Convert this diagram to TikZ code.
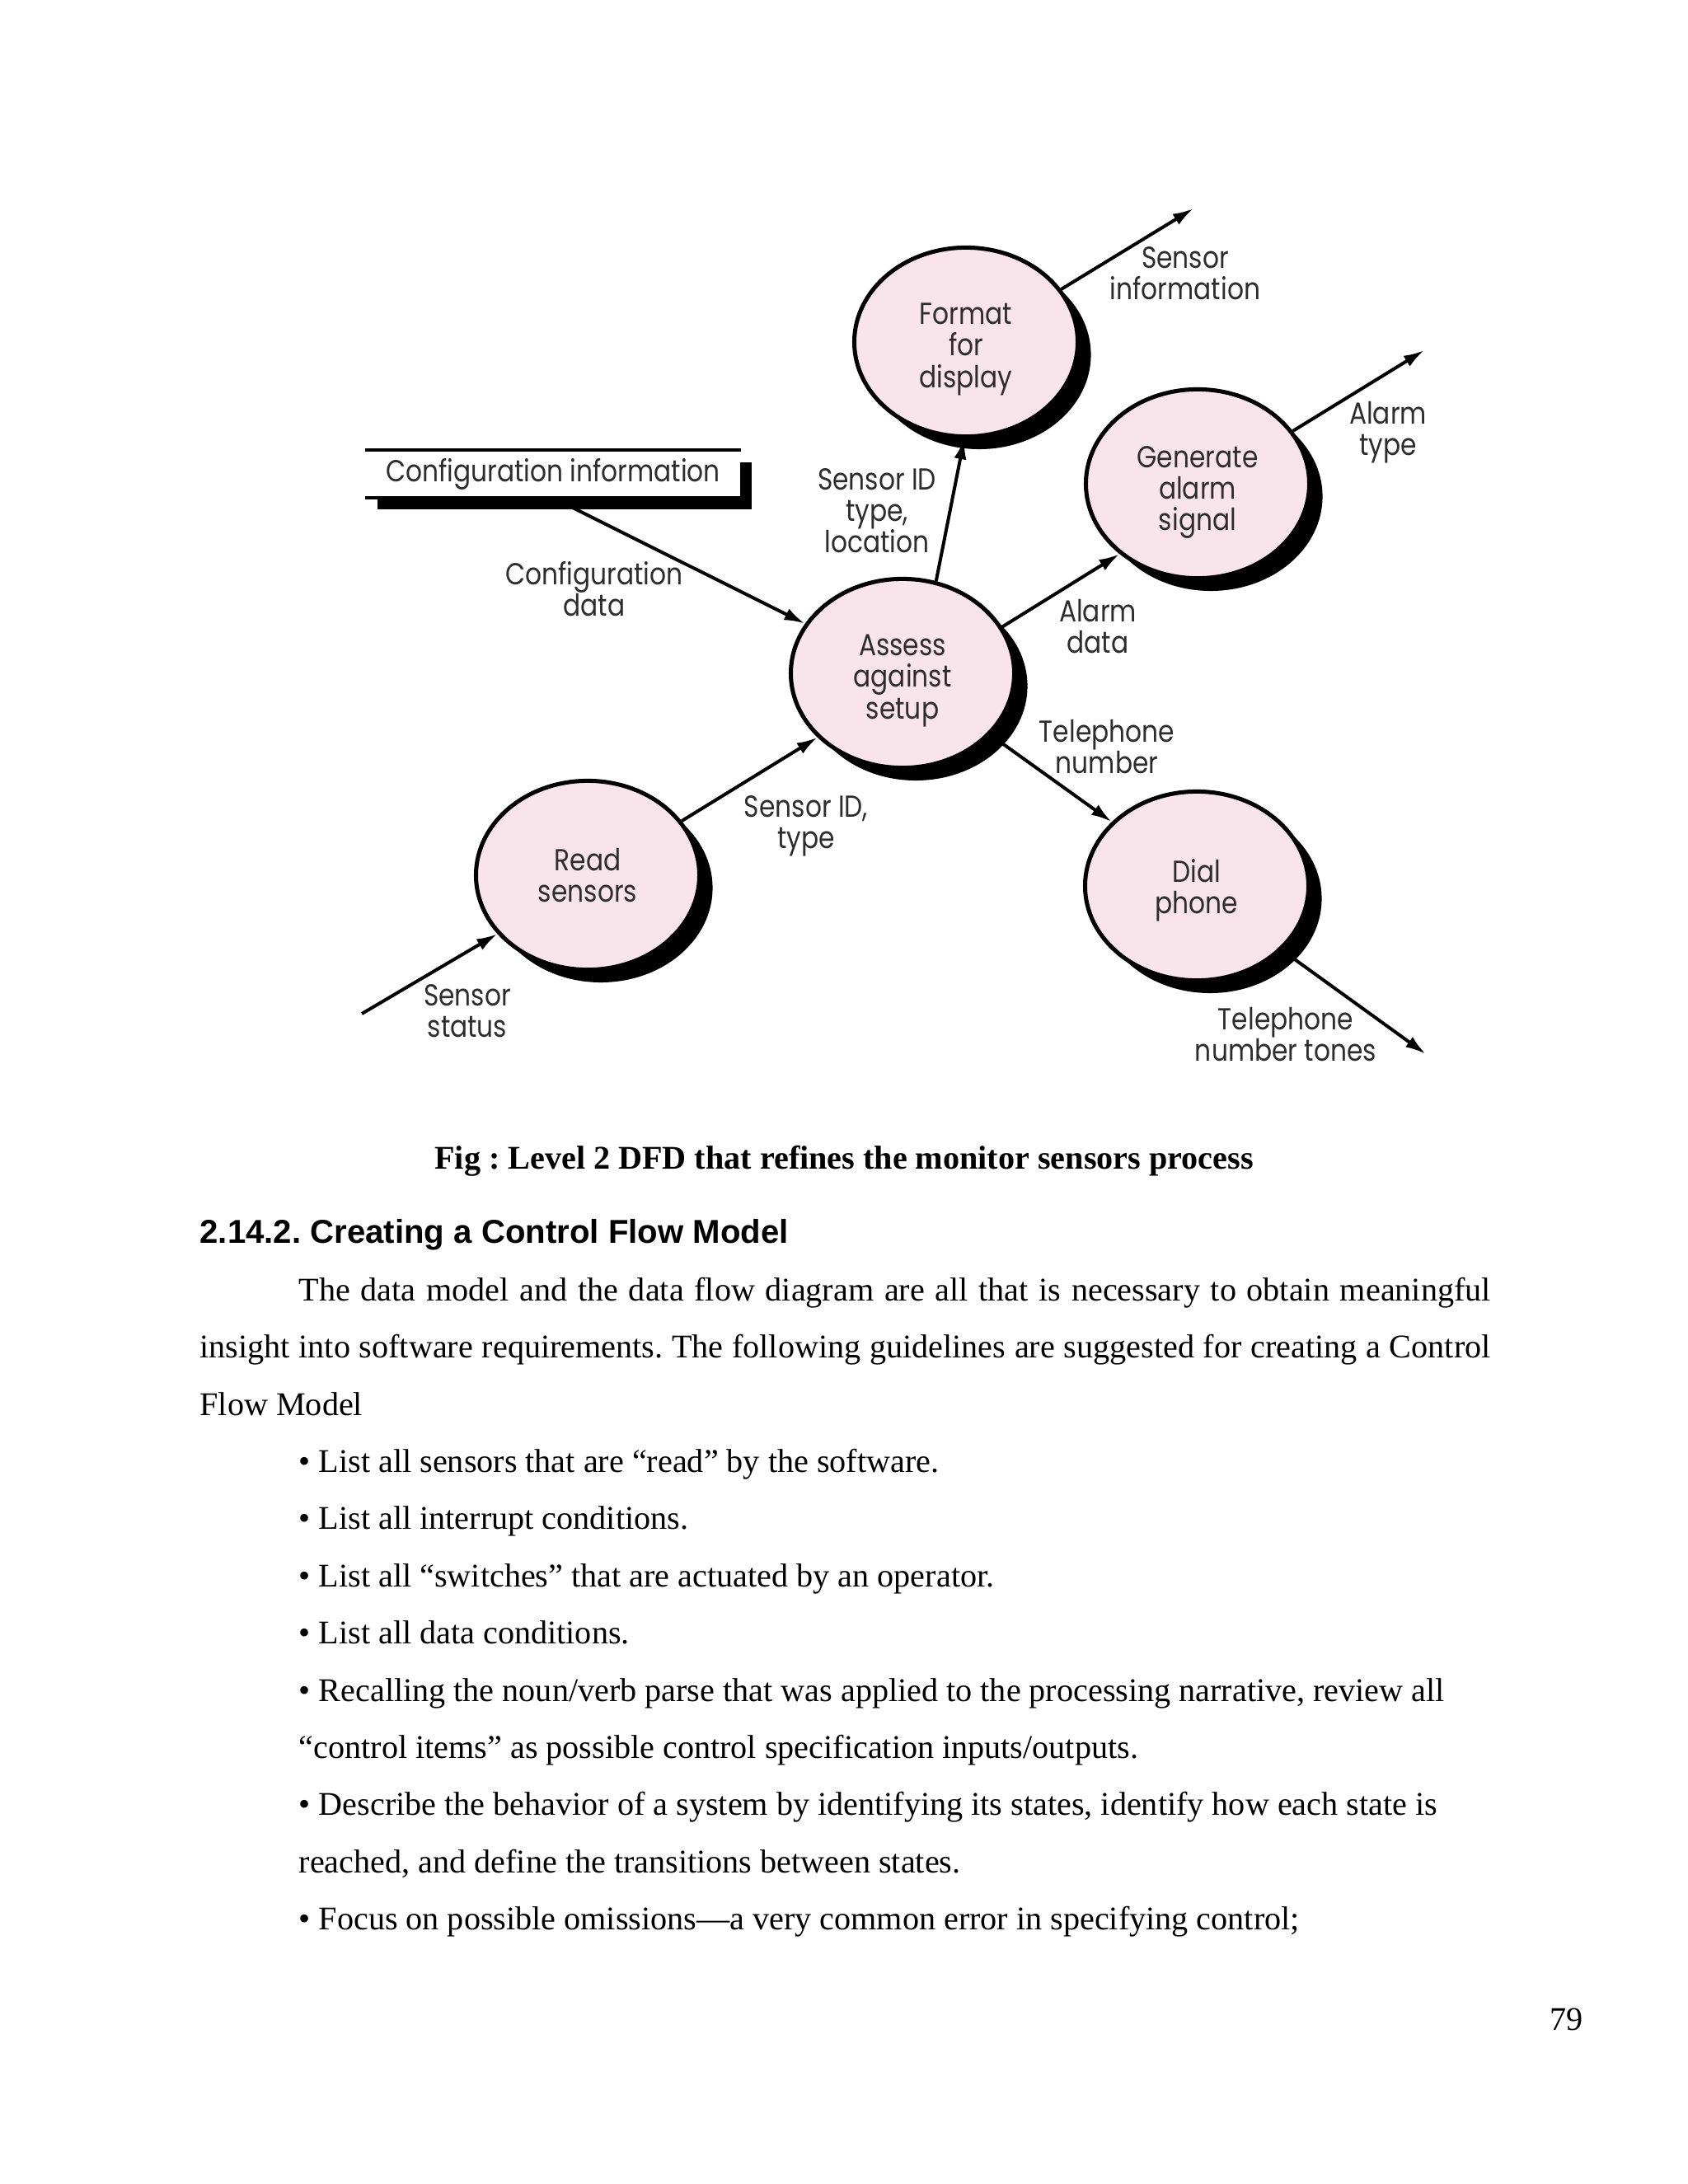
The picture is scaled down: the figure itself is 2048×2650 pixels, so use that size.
\documentclass[tikz,border=0pt]{standalone}
\usepackage{fontspec}
\setmainfont{Liberation Serif}
\setsansfont{Liberation Sans}
\newfontfamily\dfdfont[FakeStretch=0.85]{Poppins}
\usetikzlibrary{arrows.meta,shapes.geometric,shadows}

\definecolor{bubblepink}{RGB}{249,228,236}
\definecolor{labelgrey}{RGB}{45,45,45}
\newcommand{\dfdlabel}{\dfdfont\fontsize{11}{11.4}\selectfont}
\newcommand{\textdrop}[1]{\rule{0pt}{#1}}
\frenchspacing

\tikzset{
  bubble/.style={ellipse, draw=black, line width=1.5pt, fill=bubblepink,
    minimum width=81pt, minimum height=68.5pt, inner sep=0pt, align=center,
    font=\dfdlabel, text=labelgrey,
    drop shadow={shadow xshift=4.8pt, shadow yshift=-4.6pt, fill=black, opacity=1}},
  store/.style={rectangle, fill=white, minimum width=135.7pt, minimum height=17pt,
    inner sep=0pt, font=\dfdlabel, text=labelgrey,
    drop shadow={shadow xshift=4.2pt, shadow yshift=-4.2pt, fill=black, opacity=1}},
  storeline/.style={line width=1.2pt},
  flow/.style={-{Latex[length=7.5pt,width=4.5pt]}, line width=1.2pt},
  flowlabel/.style={align=center, inner sep=0pt, font=\dfdlabel, text=labelgrey},
  bodyline/.style={anchor=base west, inner sep=0pt, font=\fontsize{12}{14}\selectfont},
}

\begin{document}
\begin{tikzpicture}[x=0.29883pt,y=-0.29883pt]
\fill[white] (0,0) rectangle (2048,2650);
\useasboundingbox (0,0) rectangle (2048,2650);
% processes
\node[bubble] (format) at (1172,415) {\textdrop{13pt}Format\\for\\display};
\node[bubble] (assess) at (1095,817) {\textdrop{13pt}Assess\\against\\setup};
\node[bubble] (alarm) at (1453,587) {\textdrop{14pt}Generate\\alarm\\signal};
\node[bubble] (dial) at (1452,1075) {\textdrop{11.5pt}Dial\\phone};
\node[bubble] (read) at (713,1062) {Read\\sensors};
% data store
\node[store] (config) at (671,575) {Configuration information};
\draw[storeline] (config.north west) -- (config.north east);
\draw[storeline] (config.south west) -- (config.south east);
% open ends
\coordinate (statusin) at (439,1230);
\coordinate (infoout) at (1448,253);
\coordinate (typeout) at (1728,425);
\coordinate (tonesout) at (1730,1279);
% flows
\draw[flow] (config.south) -- (assess.153);
\draw[flow] (assess.70) -- (format.269);
\draw[flow] (assess.25) -- (alarm.222);
\draw[flow] (assess.325) -- (dial.143);
\draw[flow] (read.30) -- (assess.217);
\draw[flow] (statusin) -- (read.213);
\draw[flow] (format.29) -- (infoout);
\draw[flow] (alarm.29) -- (typeout);
\draw[flow] (dial.323) -- (tonesout);
% flow labels
\node[flowlabel] (cfgdata) at (721,715) {Configuration\\data};
\node[flowlabel] (sensid) at (1064,620) {Sensor ID\\type,\\location};
\node[flowlabel] (alarmdata) at (1332,760) {Alarm\\data};
\node[flowlabel] (telnum) at (1343,906) {Telephone\\number};
\node[flowlabel] (sensidtype) at (978,1002) {Sensor ID,\\type};
\node[flowlabel] (sensstat) at (567,1227) {Sensor\\status};
\node[flowlabel] (sensinfo) at (1438,332) {Sensor\\information};
\node[flowlabel] (alarmtype) at (1684,525) {Alarm\\type};
\node[flowlabel] (teltones) at (1560,1255) {Telephone\\number tones};
% page text
\node[bodyline, anchor=base, font=\fontsize{12}{14}\selectfont\bfseries] (fig) at (1024,1418) {Fig : Level 2 DFD that refines the monitor sensors process};
\node[bodyline, font=\fontsize{12}{14}\selectfont\sffamily\bfseries] (sec) at (242,1508) {2.14.2. Creating a Control Flow Model};
\node[bodyline] (p1) at (362,1578) {\makebox[432.1pt][s]{The data model and the data flow diagram are all that is necessary to obtain meaningful}};
\node[bodyline] (p2) at (242,1647) {\makebox[467.9pt][s]{insight into software requirements. The following guidelines are suggested for creating a Control}};
\node[bodyline] (p3) at (242,1717) {Flow Model};
\node[bodyline] (b1) at (362,1786) {• List all sensors that are “read” by the software.};
\node[bodyline] (b2) at (362,1855) {• List all interrupt conditions.};
\node[bodyline] (b3) at (362,1925) {• List all “switches” that are actuated by an operator.};
\node[bodyline] (b4) at (362,1994) {• List all data conditions.};
\node[bodyline] (b5) at (362,2064) {• Recalling the noun/verb parse that was applied to the processing narrative, review all};
\node[bodyline] (b6) at (362,2133) {“control items” as possible control specification inputs/outputs.};
\node[bodyline] (b7) at (362,2202) {• Describe the behavior of a system by identifying its states, identify how each state is};
\node[bodyline] (b8) at (362,2272) {reached, and define the transitions between states.};
\node[bodyline] (b9) at (362,2341) {• Focus on possible omissions—a very common error in specifying control;};
\node[bodyline, anchor=base east] (pageno) at (1921,2463) {79};
\end{tikzpicture}
\end{document}
